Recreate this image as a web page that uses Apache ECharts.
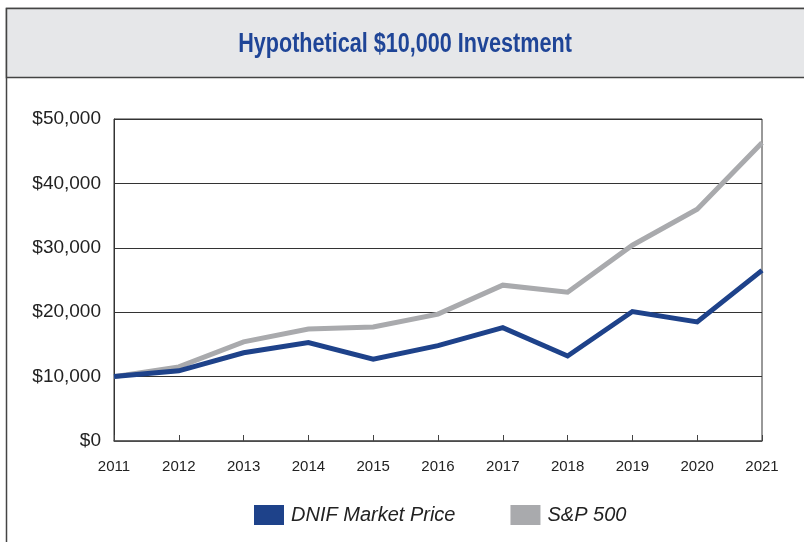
<!DOCTYPE html>
<html>
<head>
    <meta charset="utf-8">
    <title>Hypothetical $10,000 Investment</title>
    <script src="https://cdn.jsdelivr.net/npm/echarts@6/dist/echarts.min.js"></script>
    <style>
        html, body { margin: 0; padding: 0; background: #fff; }
        #chart1 { width: 804px; height: 542px; }
    </style>
</head>
<body>
<div id="chart1"></div>
<script type="text/javascript">
    // values
    var years = ['2011', '2012', '2013', '2014', '2015', '2016', '2017', '2018', '2019', '2020', '2021'];
    var dnifPrice = [10000, 10900, 13700, 15300, 12700, 14800, 17600, 13200, 20100, 18500, 26500];
    var sp500 = [10000, 11500, 15400, 17400, 17700, 19700, 24200, 23100, 30400, 36000, 46300];

    var blue = '#1e428a';
    var grey = '#a9aaad';

    var myChart1 = echarts.init(document.getElementById('chart1'));

    myChart1.setOption({
        animation: false,
        graphic: [
            // outer frame + grey title band
            { type: 'rect', z: -10, shape: { x: 6.5, y: 8.5, width: 820, height: 560 },
              style: { fill: '#fff', stroke: '#444', lineWidth: 1.5 } },
            { type: 'rect', z: -9, shape: { x: 6.5, y: 8.5, width: 820, height: 69 },
              style: { fill: '#e6e7e9', stroke: '#444', lineWidth: 1.5 } },
            // title, squeezed to look like the condensed face of the original
            { type: 'text', z: 10, x: 405, y: 45, scaleX: 0.8,
              style: {
                  text: 'Hypothetical $10,000 Investment',
                  fill: '#1f4597',
                  font: 'bold 27px "Liberation Sans"',
                  align: 'center',
                  verticalAlign: 'middle'
              } }
        ],
        legend: {
            data: ['DNIF Market Price', 'S&P 500'],
            top: 500,
            left: 249,
            icon: 'rect',
            itemWidth: 30,
            itemHeight: 20,
            itemGap: 55,
            textStyle: {
                fontFamily: 'Liberation Sans',
                fontStyle: 'italic',
                fontSize: 20,
                color: '#222',
                padding: [0, 0, 0, 2]
            }
        },
        grid: {
            left: 114,
            right: 42,
            top: 119,
            bottom: 101,
            show: true,
            borderColor: '#333',
            borderWidth: 1
        },
        xAxis: {
            type: 'category',
            data: years,
            boundaryGap: false,
            axisLine: { lineStyle: { color: '#555', width: 1.5 } },
            axisTick: { inside: true, length: 6, lineStyle: { color: '#444' } },
            axisLabel: {
                margin: 18,
                fontFamily: 'Liberation Sans',
                fontSize: 15,
                color: '#222'
            }
        },
        yAxis: {
            type: 'value',
            min: 0,
            max: 50000,
            interval: 10000,
            axisLine: { show: true, lineStyle: { color: '#333' } },
            axisTick: { show: false },
            splitLine: { lineStyle: { color: '#333', width: 1 } },
            axisLabel: {
                margin: 13,
                fontFamily: 'Liberation Sans',
                fontSize: 19,
                color: '#222',
                formatter: function (v) {
                    return '$' + v.toLocaleString('en-US');
                }
            }
        },
        series: [
            {
                name: 'S&P 500',
                type: 'line',
                data: sp500,
                symbol: 'none',
                itemStyle: { color: grey },
                lineStyle: { color: grey, width: 5, join: 'miter' }
            },
            {
                name: 'DNIF Market Price',
                type: 'line',
                data: dnifPrice,
                symbol: 'none',
                itemStyle: { color: blue },
                lineStyle: { color: blue, width: 5, join: 'miter' }
            }
        ]
    });
</script>
</body>
</html>
